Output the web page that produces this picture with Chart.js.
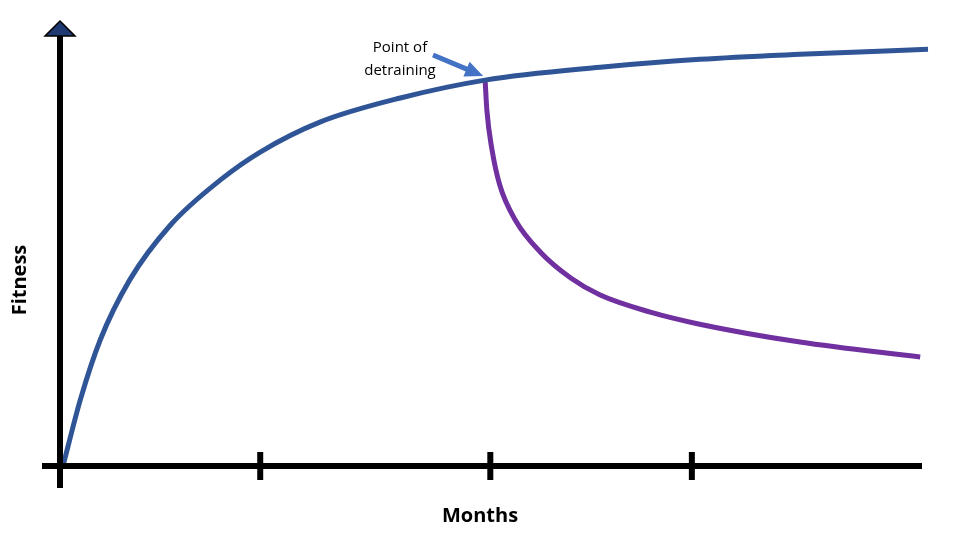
<!DOCTYPE html>
<html><head><meta charset="utf-8">
<script src="https://cdn.jsdelivr.net/npm/chart.js@4/dist/chart.umd.min.js"></script>
<style>html,body{margin:0;padding:0;background:#fff}#wrap{width:974px;height:550px}</style>
</head><body><div id="wrap"><canvas id="c"></canvas></div>
<script>
const trainingX = [0,0.2,0.43,0.77,1.24,1.82,2.28,2.97,3.9,4.88,6.21,7.36,8.52,10];
const trainingY = [0,15.9,30.3,44.7,57.9,68.8,75.5,82.7,88.5,92.8,95.9,97.8,99.0,100.2];
const detrainX = [4.88,4.9,4.96,5.05,5.23,5.52,5.87,6.21,6.79,7.36,8.52,9.91];
const detrainY = [92.8,85.6,76,67.5,59.1,51.4,45.2,41.1,37,34.1,29.8,26.2];
const tickMonths = [2.28,4.94,7.27];
const xTitle = "Months", yTitle = "Fitness";
const annotation = ["Point of","detraining"];

const axesPlugin = {
  id:'axes',
  afterDatasetsDraw(chart){
    const {ctx, scales:{x,y}} = chart;
    const y0 = y.getPixelForValue(0), x0 = x.getPixelForValue(0)-3;
    ctx.save();
    ctx.strokeStyle='#000'; ctx.lineWidth=6; ctx.lineCap='butt';
    ctx.beginPath(); ctx.moveTo(x0,36); ctx.lineTo(x0,y0+22); ctx.stroke();
    ctx.beginPath(); ctx.moveTo(42,y0); ctx.lineTo(x.getPixelForValue(10)-6,y0); ctx.stroke();
    tickMonths.forEach(t=>{const px=x.getPixelForValue(t);ctx.beginPath();ctx.moveTo(px,y0-14);ctx.lineTo(px,y0+14);ctx.stroke();});
    ctx.fillStyle='#1F3A70'; ctx.lineWidth=1.5;
    ctx.beginPath(); ctx.moveTo(x0,21); ctx.lineTo(x0+15,36); ctx.lineTo(x0-15,36); ctx.closePath(); ctx.fill(); ctx.stroke();
    // titles
    ctx.fillStyle='#000'; ctx.font='bold 20px "Open Sans", sans-serif'; ctx.textAlign='center'; ctx.textBaseline='middle';
    ctx.fillText(xTitle, 480, 516);
    ctx.save(); ctx.translate(20,280); ctx.rotate(-Math.PI/2); ctx.fillText(yTitle,0,0); ctx.restore();
    ctx.font='15px "Open Sans", sans-serif';
    ctx.fillText(annotation[0],400,48); ctx.fillText(annotation[1],400,71);
    // arrow
    const ax=x.getPixelForValue(detrainX[0])-2, ay=y.getPixelForValue(detrainY[0])-4;
    ctx.strokeStyle='#4472C4'; ctx.fillStyle='#4472C4'; ctx.lineWidth=5;
    ctx.beginPath(); ctx.moveTo(433,55); ctx.lineTo(ax-14,ay-6); ctx.stroke();
    const ang=Math.atan2(ay-55,ax-433);
    ctx.beginPath(); ctx.moveTo(ax,ay);
    ctx.lineTo(ax-18*Math.cos(ang)+8*Math.sin(ang), ay-18*Math.sin(ang)-8*Math.cos(ang));
    ctx.lineTo(ax-18*Math.cos(ang)-8*Math.sin(ang), ay-18*Math.sin(ang)+8*Math.cos(ang));
    ctx.closePath(); ctx.fill();
    ctx.restore();
  }
};

new Chart(document.getElementById('c'), {
  type:'scatter',
  data:{datasets:[
    {data:trainingX.map((v,i)=>({x:v,y:trainingY[i]})), showLine:true, borderColor:'#2F5597', borderWidth:5, pointRadius:0, cubicInterpolationMode:'monotone', clip:false},
    {data:detrainX.map((v,i)=>({x:v,y:detrainY[i]})), showLine:true, borderColor:'#7030A0', borderWidth:5, pointRadius:0, cubicInterpolationMode:'monotone', clip:false}
  ]},
  options:{responsive:true, maintainAspectRatio:false, animation:false,
    layout:{padding:{left:63,right:46,top:46,bottom:84}},
    plugins:{legend:{display:false},tooltip:{enabled:false}},
    scales:{x:{type:'linear',min:0,max:10,display:false},y:{min:0,max:101,display:false}}
  },
  plugins:[axesPlugin]
});
</script></body></html>
